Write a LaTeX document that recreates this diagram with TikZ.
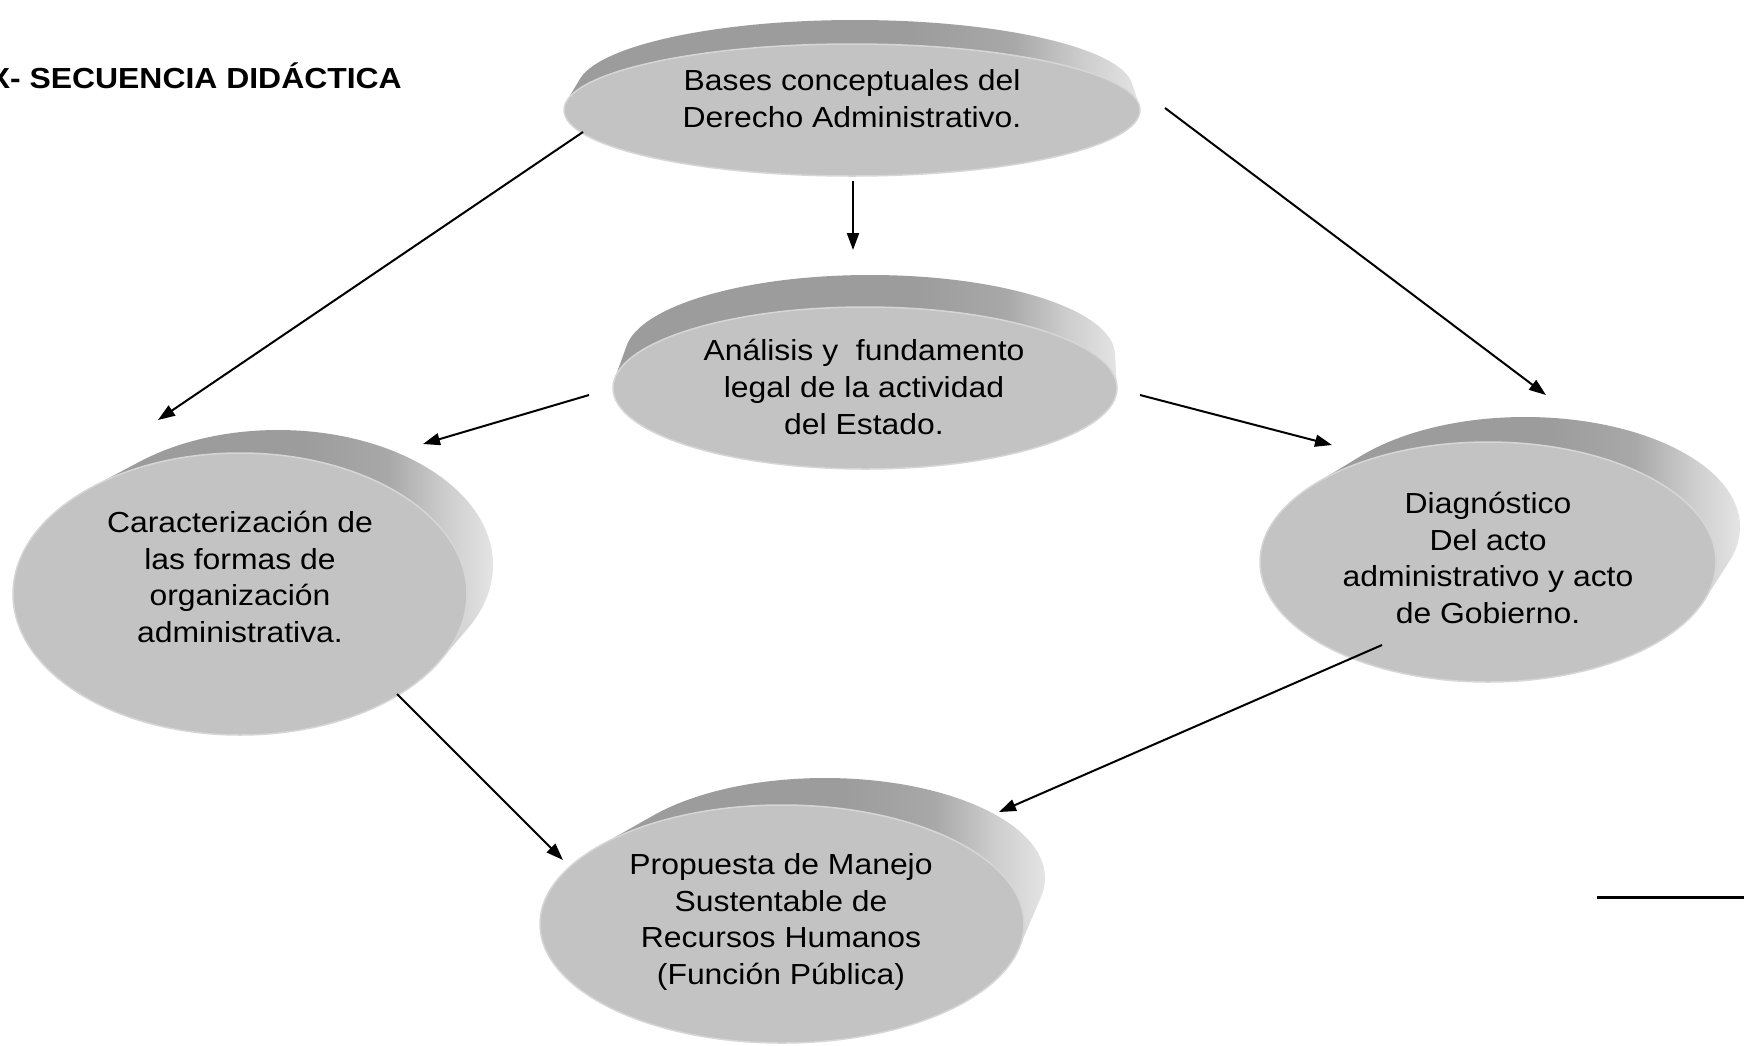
\documentclass[tikz,border=0pt]{standalone}
\usepackage{fontspec}
\setmainfont{Liberation Sans}[FakeStretch=1.1]
\usetikzlibrary{arrows.meta,calc}
\definecolor{frontgray}{RGB}{195,195,195}
\definecolor{edgegray}{RGB}{214,214,214}
\definecolor{rimD}{RGB}{156,156,156}
\definecolor{rimM}{RGB}{168,168,168}
\definecolor{rimL}{RGB}{205,205,205}
\definecolor{rimR}{RGB}{228,228,228}
\pgfdeclarehorizontalshading{rimshading}{100bp}{color(0bp)=(rimD); color(25bp)=(rimD); color(55bp)=(rimD); color(64bp)=(rimM); color(70bp)=(rimL); color(75bp)=(rimR); color(100bp)=(rimR)}
% back centre x,y, back radii, front centre x,y, front radii
\newcommand\drawdisc[8]{%
  \shade[shading=rimshading]
    \foreach \t in {0,0.02,...,0.99} {%
      ({#1+(#5-#1)*\t},{#2+(#6-#2)*\t}) ellipse [x radius={#3+(#7-#3)*\t}, y radius={#4+(#8-#4)*\t}]};
  \fill[frontgray, draw=edgegray, line width=1.5pt] (#5,#6) ellipse [x radius=#7, y radius=#8];
}
\begin{document}
\begin{tikzpicture}[x=1pt, y=-1pt,
  font=\fontsize{29}{36.8}\selectfont,
  txt/.style={align=center, inner sep=0pt, text=black},
  arr/.style={-{Triangle[length=17pt,width=12pt]}, line width=2pt, draw=black}]
\fill[white] (0,0) rectangle (1744,1045);
\useasboundingbox (0,0) rectangle (1744,1045);

% discs
\drawdisc{855}{89}{278}{69}{852}{110}{288}{66}
\drawdisc{870}{355}{245}{80}{865}{388}{252}{81}
\drawdisc{278}{565}{215}{135}{240}{594}{227}{141}
\drawdisc{1525}{527}{215}{110}{1488}{562}{228}{120}
\drawdisc{825}{878}{220}{100}{782}{924}{242}{119}

% title
\node[anchor=base east, inner sep=0pt, font=\fontsize{29}{36.8}\selectfont\bfseries] (title) at (402,88) {X- SECUENCIA DIDÁCTICA};

% texts
\node[txt] (top) at (852,99) {Bases conceptuales del\\Derecho Administrativo.};
\node[txt] (mid) at (864,387) {Análisis y \ fundamento\\legal de la actividad\\del Estado.};
\node[txt] (left) at (240,577) {Caracterización de\\las formas de\\organización\\administrativa.};
\node[txt] (right) at (1488,558) {Diagnóstico\\Del acto\\administrativo y acto\\de Gobierno.};
\node[txt] (bot) at (781,922) {Propuesta de Manejo\\Sustentable de\\Recursos Humanos\\(Función Pública)};

% connectors
\draw[arr] ($(top)+(-269,33)$) -- ($(left)+(-82,-157)$);
\draw[arr] ($(top)+(1,82)$) -- ($(mid)+(-11,-137)$);
\draw[arr] ($(top)+(313,9)$) -- ($(right)+(58,-163)$);
\draw[arr] ($(mid)+(-275,8)$) -- ($(left)+(183,-133)$);
\draw[arr] ($(mid)+(276,8)$) -- ($(right)+(-156,-113)$);
\draw[arr] ($(left)+(157,117)$) -- ($(bot)+(-218,-62)$);
\draw[arr] ($(right)+(-106,87)$) -- ($(bot)+(218,-110)$);

% short rule at bottom right
\coordinate (ruleA) at (1597,897);
\coordinate (ruleB) at (1744,897);
\draw[line width=3pt, black] (ruleA) -- (ruleB);
\end{tikzpicture}
\end{document}
